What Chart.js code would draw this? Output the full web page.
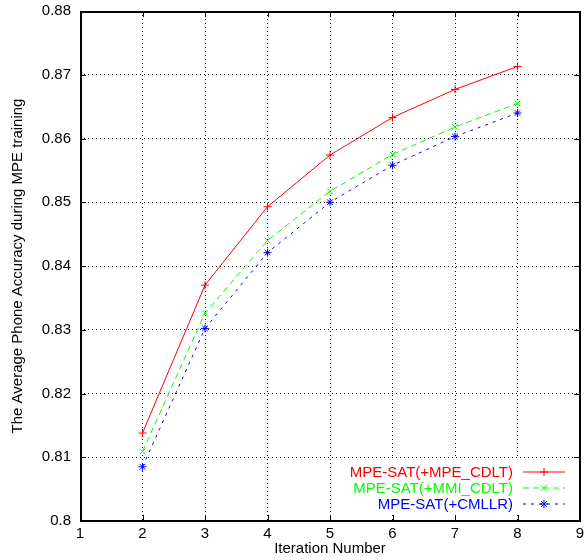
<!DOCTYPE html>
<html>
<head>
<meta charset="utf-8">
<script src="https://cdn.jsdelivr.net/npm/chart.js@4"></script>
<style>
html,body{margin:0;padding:0;background:#fff;}
#wrap{width:585px;height:560px;position:relative;}
</style>
</head>
<body>
<div id="wrap"><canvas id="c" width="585" height="560"></canvas></div>
<script>
const iterations = [2, 3, 4, 5, 6, 7, 8];
const mpeCdlt = [0.8138, 0.8370, 0.8493, 0.8574, 0.8633, 0.8677, 0.8713];
const mmiCdlt = [0.8109, 0.8326, 0.8440, 0.8517, 0.8575, 0.8618, 0.8655];
const cmllr   = [0.8085, 0.8302, 0.8421, 0.8500, 0.8558, 0.8603, 0.8640];
const seriesNames = ['MPE-SAT(+MPE_CDLT)', 'MPE-SAT(+MMI_CDLT)', 'MPE-SAT(+CMLLR)'];
const xTicks = [1, 2, 3, 4, 5, 6, 7, 8, 9];
const xTickLabels = ['1', '2', '3', '4', '5', '6', '7', '8', '9'];
const yTicks = [0.80, 0.81, 0.82, 0.83, 0.84, 0.85, 0.86, 0.87, 0.88];
const yTickLabels = ['0.8', '0.81', '0.82', '0.83', '0.84', '0.85', '0.86', '0.87', '0.88'];
const xTitle = 'Iteration Number';
const yTitle = 'The Average Phone Accuracy during MPE training';

const FONT = 'Liberation Sans, Arial, Helvetica, sans-serif';

function pts(ys) { return iterations.map((x, i) => ({x: x, y: ys[i]})); }

const styles = [
  {color: '#ff0000', dash: [], point: 'cross'},
  {color: '#00ff00', dash: [6, 4], point: 'crossRot'},
  {color: '#0000ff', dash: [3, 5], point: 'star'}
];
const allData = [mpeCdlt, mmiCdlt, cmllr];

const datasets = allData.map((d, i) => ({
  label: seriesNames[i],
  data: pts(d),
  borderColor: styles[i].color,
  backgroundColor: styles[i].color,
  borderWidth: 1,
  borderDash: styles[i].dash,
  pointStyle: styles[i].point,
  pointRadius: 4,
  pointBorderWidth: 1,
  pointBorderColor: styles[i].color,
  tension: 0,
  fill: false
}));

const framePlugin = {
  id: 'frame',
  afterDraw(chart) {
    const ctx = chart.ctx;
    const a = chart.chartArea;
    const xs = chart.scales.x, ys = chart.scales.y;
    ctx.save();
    // legend background (key box blanks grid)
    ctx.fillStyle = '#fff';
    ctx.fillRect(340, 459, a.right - 1 - 340, 56);
    // legend entries
    ctx.font = '15px ' + FONT;
    ctx.textAlign = 'right';
    ctx.textBaseline = 'middle';
    const rowY = [471.5, 487.5, 503.5];
    for (let i = 0; i < 3; i++) {
      const y = rowY[i];
      ctx.fillStyle = styles[i].color;
      ctx.fillText(seriesNames[i], 513, y + 1);
      ctx.strokeStyle = styles[i].color;
      ctx.lineWidth = 1;
      ctx.setLineDash(styles[i].dash);
      ctx.beginPath();
      ctx.moveTo(523, y + 0.5);
      ctx.lineTo(565, y + 0.5);
      ctx.stroke();
      ctx.setLineDash([]);
      Chart.helpers.drawPoint(ctx, {pointStyle: styles[i].point, radius: 4, borderWidth: 1, rotation: 0}, 544, y + 0.5);
    }
    // tick marks (inward, mirrored)
    ctx.strokeStyle = '#000';
    ctx.lineWidth = 1;
    ctx.setLineDash([]);
    const tl = 6;
    ctx.beginPath();
    xTicks.forEach(v => {
      const px = Math.round(xs.getPixelForValue(v)) + 0.5;
      ctx.moveTo(px, a.bottom); ctx.lineTo(px, a.bottom - tl);
      ctx.moveTo(px, a.top); ctx.lineTo(px, a.top + tl);
    });
    yTicks.forEach(v => {
      const py = Math.round(ys.getPixelForValue(v)) + 0.5;
      ctx.moveTo(a.left, py); ctx.lineTo(a.left + tl, py);
      ctx.moveTo(a.right, py); ctx.lineTo(a.right - tl, py);
    });
    ctx.stroke();
    // border
    ctx.lineWidth = 2;
    ctx.strokeRect(a.left + 1, a.top + 1, a.right - a.left - 1, a.bottom - a.top - 1);
    ctx.restore();
  }
};

new Chart(document.getElementById('c'), {
  type: 'line',
  data: {datasets: datasets},
  options: {
    responsive: false,
    animation: false,
    layout: {padding: {top: 11, right: 3, left: 0, bottom: 0}},
    plugins: {legend: {display: false}, tooltip: {enabled: false}},
    scales: {
      x: {
        type: 'linear',
        min: 1, max: 9,
        afterBuildTicks(s) { s.ticks = xTicks.map(v => ({value: v})); },
        afterFit(s) { s.height = 39; s.paddingLeft = 0; s.paddingRight = 0; },
        ticks: {
          padding: 4,
          color: '#000',
          font: {family: FONT, size: 15},
          maxRotation: 0,
          autoSkip: false,
          callback: (v, i) => xTickLabels[i]
        },
        grid: {color: '#000', lineWidth: 1, drawTicks: false},
        border: {display: false, dash: [1, 3]},
        title: {display: true, text: xTitle, color: '#000', font: {family: FONT, size: 15}, padding: {top: 0, bottom: 2}}
      },
      y: {
        type: 'linear',
        min: 0.8, max: 0.88,
        afterBuildTicks(s) { s.ticks = yTicks.map(v => ({value: v})); },
        afterFit(s) { s.width = 80; s.paddingTop = 0; s.paddingBottom = 0; },
        ticks: {
          padding: 9,
          color: '#000',
          font: {family: FONT, size: 15},
          autoSkip: false,
          callback: (v, i) => yTickLabels[i]
        },
        grid: {color: '#000', lineWidth: 1, drawTicks: false},
        border: {display: false, dash: [1, 3]},
        title: {display: true, text: yTitle, color: '#000', font: {family: FONT, size: 15}, padding: {top: 9, bottom: 0}}
      }
    }
  },
  plugins: [framePlugin]
});
</script>
</body>
</html>
